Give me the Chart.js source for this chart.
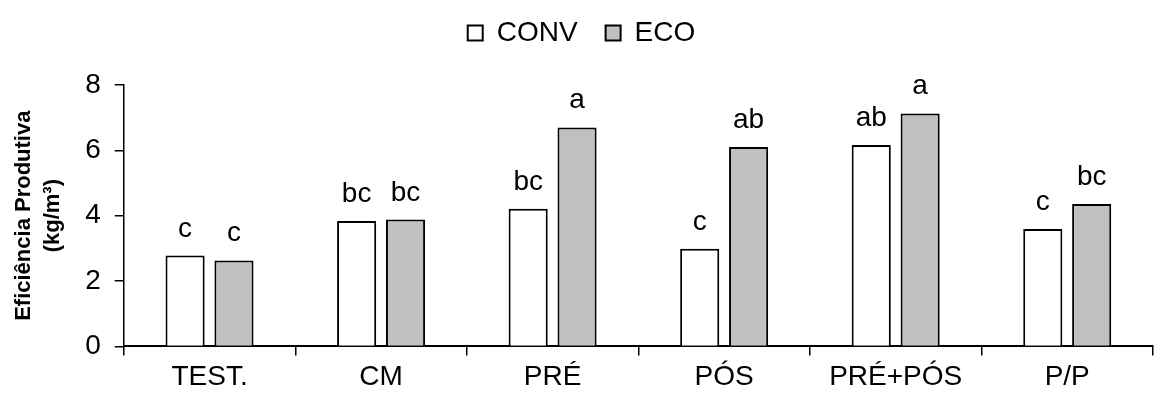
<!DOCTYPE html>
<html>
<head>
<meta charset="utf-8">
<script src="https://cdn.jsdelivr.net/npm/chart.js@4.4.1/dist/chart.umd.min.js"></script>
<style>
  html, body { margin: 0; padding: 0; background: #fff; }
  #box { width: 1157px; height: 399px; }
</style>
</head>
<body>
<div id="box"><canvas id="grafico"></canvas></div>
<script>
/* ======= Dados ======= */
const categorias = ["TEST.", "CM", "PRÉ", "PÓS", "PRÉ+PÓS", "P/P"];
const valoresConv = [2.78, 3.84, 4.21, 2.99, 6.16, 3.59];
const valoresEco = [2.63, 3.88, 6.70, 6.10, 7.13, 4.36];
const letrasConv = ["c", "bc", "bc", "c", "ab", "c"];
const letrasEco = ["c", "bc", "a", "ab", "a", "bc"];
const ticksY = [0, 2, 4, 6, 8];

const FONTE = "'Liberation Sans', Arial, sans-serif";

/* ======= Letras acima das barras ======= */
const letrasPlugin = {
  id: 'letras',
  afterDatasetsDraw(chart) {
    const ctx = chart.ctx;
    const letras = [letrasConv, letrasEco];
    ctx.save();
    ctx.font = "28px " + FONTE;
    ctx.fillStyle = "#000";
    ctx.textAlign = "center";
    ctx.textBaseline = "alphabetic";
    chart.data.datasets.forEach((ds, i) => {
      chart.getDatasetMeta(i).data.forEach((bar, j) => {
        ctx.fillText(letras[i][j], bar.x, bar.y - 19);
      });
    });
    ctx.restore();
  }
};

/* ======= Espaço extra abaixo da legenda ======= */
const espacoLegenda = {
  id: 'espacoLegenda',
  beforeInit(chart) {
    const fitOriginal = chart.legend.fit;
    chart.legend.fit = function () {
      fitOriginal.bind(chart.legend)();
      this.height += 28;
    };
  }
};

new Chart(document.getElementById("grafico"), {
  type: "bar",
  data: {
    labels: categorias,
    datasets: [
      { label: "CONV", data: valoresConv, backgroundColor: "#ffffff", borderColor: "#000", borderWidth: 2 },
      { label: "ECO", data: valoresEco, backgroundColor: "#c0c0c0", borderColor: "#000", borderWidth: 2 }
    ]
  },
  options: {
    responsive: true,
    maintainAspectRatio: false,
    animation: false,
    categoryPercentage: 0.57,
    barPercentage: 0.8,
    layout: { padding: { top: -9, right: 4, left: 10, bottom: 0 } },
    plugins: {
      legend: {
        display: true,
        position: "top",
        labels: {
          color: "#000",
          font: { family: FONTE, size: 28 },
          boxWidth: 15,
          boxHeight: 15,
          padding: 28
        }
      },
      tooltip: { enabled: false }
    },
    scales: {
      x: {
        grid: { display: true, drawOnChartArea: false, drawTicks: true, tickLength: 9, color: "#000", lineWidth: 1.5, offset: true },
        border: { display: true, color: "#000", width: 2 },
        ticks: { color: "#000", font: { family: FONTE, size: 28 }, padding: 5 }
      },
      y: {
        min: 0,
        max: 8,
        afterBuildTicks(axis) { axis.ticks = ticksY.map(v => ({ value: v })); },
        grid: { display: true, drawOnChartArea: false, drawTicks: true, tickLength: 9, color: "#000", lineWidth: 1.5 },
        border: { display: true, color: "#000", width: 1.5 },
        ticks: { color: "#000", font: { family: FONTE, size: 28 }, padding: 14 },
        title: {
          display: true,
          text: ["Eficiência Produtiva", "(kg/m³)"],
          color: "#000",
          font: { family: FONTE, size: 22, weight: "bold", lineHeight: 1.3 },
          padding: { top: 0, bottom: 4 }
        }
      }
    }
  },
  plugins: [letrasPlugin, espacoLegenda]
});
</script>
</body>
</html>
